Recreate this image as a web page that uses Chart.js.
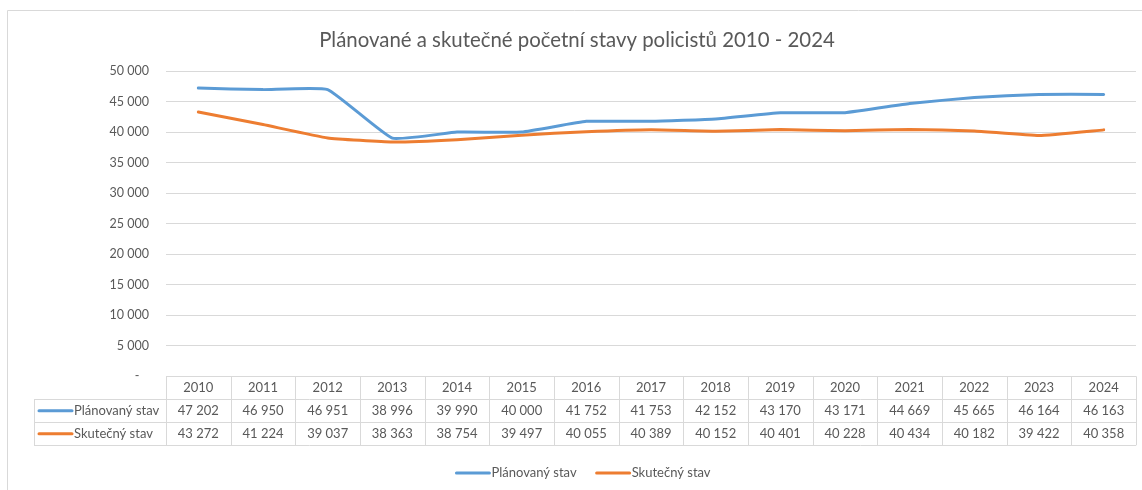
<!DOCTYPE html>
<html><head><meta charset="utf-8">
<script src="https://cdn.jsdelivr.net/npm/chart.js@4/dist/chart.umd.min.js"></script>
<style>html,body{margin:0;padding:0;background:#fff}#wrap{width:1142px;height:490px;position:relative}</style>
</head><body><div id="wrap"><canvas id="c" width="1142" height="490"></canvas></div>
<script>
const years = ['2010','2011','2012','2013','2014','2015','2016','2017','2018','2019','2020','2021','2022','2023','2024'];
const planned = [47202,46950,46951,38996,39990,40000,41752,41753,42152,43170,43171,44669,45665,46164,46163];
const actual = [43272,41224,39037,38363,38754,39497,40055,40389,40152,40401,40228,40434,40182,39422,40358];
const seriesNames = ['Plánovaný stav','Skutečný stav'];
const seriesColors = ['#5B9BD5','#ED7D31'];
const yMin = 0, yMax = 50000, yStep = 5000;
const titleText = 'Plánované a skutečné početní stavy policistů 2010 - 2024';

const FONT = 'Lato, "Open Sans", sans-serif';
const TXT = '#595959';
const GRID = '#D9D9D9';

function fmt(v){ return String(v).replace(/\B(?=(\d{3})+(?!\d))/g,' '); }

const extras = {
  id:'extras',
  beforeDraw(chart){
    const ctx = chart.ctx;
    ctx.save();
    ctx.strokeStyle = GRID; ctx.lineWidth = 1;
    ctx.beginPath();
    ctx.moveTo(7.5, 490); ctx.lineTo(7.5, 10.5); ctx.lineTo(1142, 10.5);
    ctx.stroke();
    ctx.restore();
  },
  afterDraw(chart){
    const ctx = chart.ctx;
    const xs = chart.scales.x;
    const ca = chart.chartArea;
    const half = (xs.getPixelForValue(1) - xs.getPixelForValue(0))/2;
    const colL = xs.getPixelForValue(0) - half;
    const colR = xs.getPixelForValue(years.length-1) + half;
    const top = ca.bottom;
    const rowH = 23;
    const tableLeft = 34;
    ctx.save();
    // title
    ctx.fillStyle = TXT;
    ctx.font = '20.4px ' + FONT;
    ctx.textAlign = 'center'; ctx.textBaseline = 'middle';
    ctx.fillText(titleText, 577, 40);
    // table lines
    ctx.strokeStyle = GRID; ctx.lineWidth = 1;
    ctx.beginPath();
    const px = v => Math.round(v) + 0.5;
    ctx.moveTo(colL, px(top)); ctx.lineTo(colR, px(top));
    for (let r = 1; r <= 3; r++) {
      ctx.moveTo(tableLeft, px(top + r*rowH)); ctx.lineTo(colR, px(top + r*rowH));
    }
    for (let i = 0; i <= years.length; i++) {
      const x = px(colL + i*2*half);
      ctx.moveTo(x, top); ctx.lineTo(x, top + 3*rowH);
    }
    ctx.moveTo(px(tableLeft), top + rowH); ctx.lineTo(px(tableLeft), top + 3*rowH);
    ctx.stroke();
    // table text
    ctx.font = '13px ' + FONT;
    ctx.fillStyle = TXT;
    ctx.textAlign = 'center'; ctx.textBaseline = 'middle';
    const rows = [planned, actual];
    years.forEach((y,i) => {
      const cx = xs.getPixelForValue(i);
      ctx.fillText(y, cx, top + rowH*0.5);
      rows.forEach((arr, r) => ctx.fillText(fmt(arr[i]), cx, top + rowH*(1.5 + r)));
    });
    // table legend keys
    rows.forEach((arr, r) => {
      const cy = top + rowH*(1.5 + r);
      ctx.strokeStyle = seriesColors[r]; ctx.lineWidth = 3; ctx.lineCap = 'round';
      ctx.beginPath(); ctx.moveTo(39, cy); ctx.lineTo(72, cy); ctx.stroke();
      ctx.textAlign = 'left'; ctx.fillStyle = TXT;
      ctx.fillText(seriesNames[r], 74, cy);
    });
    // bottom legend
    const ly = 473;
    const keyW = 34, gapT = 2, gapItem = 19;
    const widths = seriesNames.map(n => ctx.measureText(n).width);
    const total = widths.reduce((a,w)=>a+keyW+gapT+w,0) + gapItem;
    let x = 583 - total/2;
    seriesNames.forEach((n, i) => {
      ctx.strokeStyle = seriesColors[i]; ctx.lineWidth = 3; ctx.lineCap = 'round';
      ctx.beginPath(); ctx.moveTo(x + 1, ly); ctx.lineTo(x + keyW, ly); ctx.stroke();
      ctx.textAlign = 'left'; ctx.fillStyle = TXT;
      ctx.fillText(n, x + keyW + gapT, ly);
      x += keyW + gapT + widths[i] + gapItem;
    });
    ctx.restore();
  }
};

new Chart(document.getElementById('c'), {
  type: 'line',
  data: {
    labels: years,
    datasets: [
      { label: seriesNames[0], data: planned, borderColor: seriesColors[0], backgroundColor: seriesColors[0], borderWidth: 3, pointRadius: 0, tension: 0.12, borderCapStyle: 'round', borderJoinStyle: 'round' },
      { label: seriesNames[1], data: actual, borderColor: seriesColors[1], backgroundColor: seriesColors[1], borderWidth: 3, pointRadius: 0, tension: 0.12, borderCapStyle: 'round', borderJoinStyle: 'round' }
    ]
  },
  options: {
    responsive: false,
    animation: false,
    devicePixelRatio: 1,
    layout: { padding: { left: 0, right: 6, top: 71, bottom: 105.7 } },
    plugins: { legend: { display: false }, title: { display: false }, tooltip: { enabled: false } },
    scales: {
      x: {
        type: 'category', offset: true,
        grid: { display: false }, border: { display: false },
        ticks: { display: false }
      },
      y: {
        min: yMin, max: yMax,
        afterFit(s){ s.width = 166; },
        grid: { color: GRID, lineWidth: 1, drawTicks: false },
        border: { display: false },
        ticks: {
          stepSize: yStep, padding: 17, color: TXT,
          font: { family: FONT, size: 12.5 },
          callback: v => v === 0 ? '-   ' : fmt(v)
        }
      }
    }
  },
  plugins: [extras]
});
</script>
</body></html>
